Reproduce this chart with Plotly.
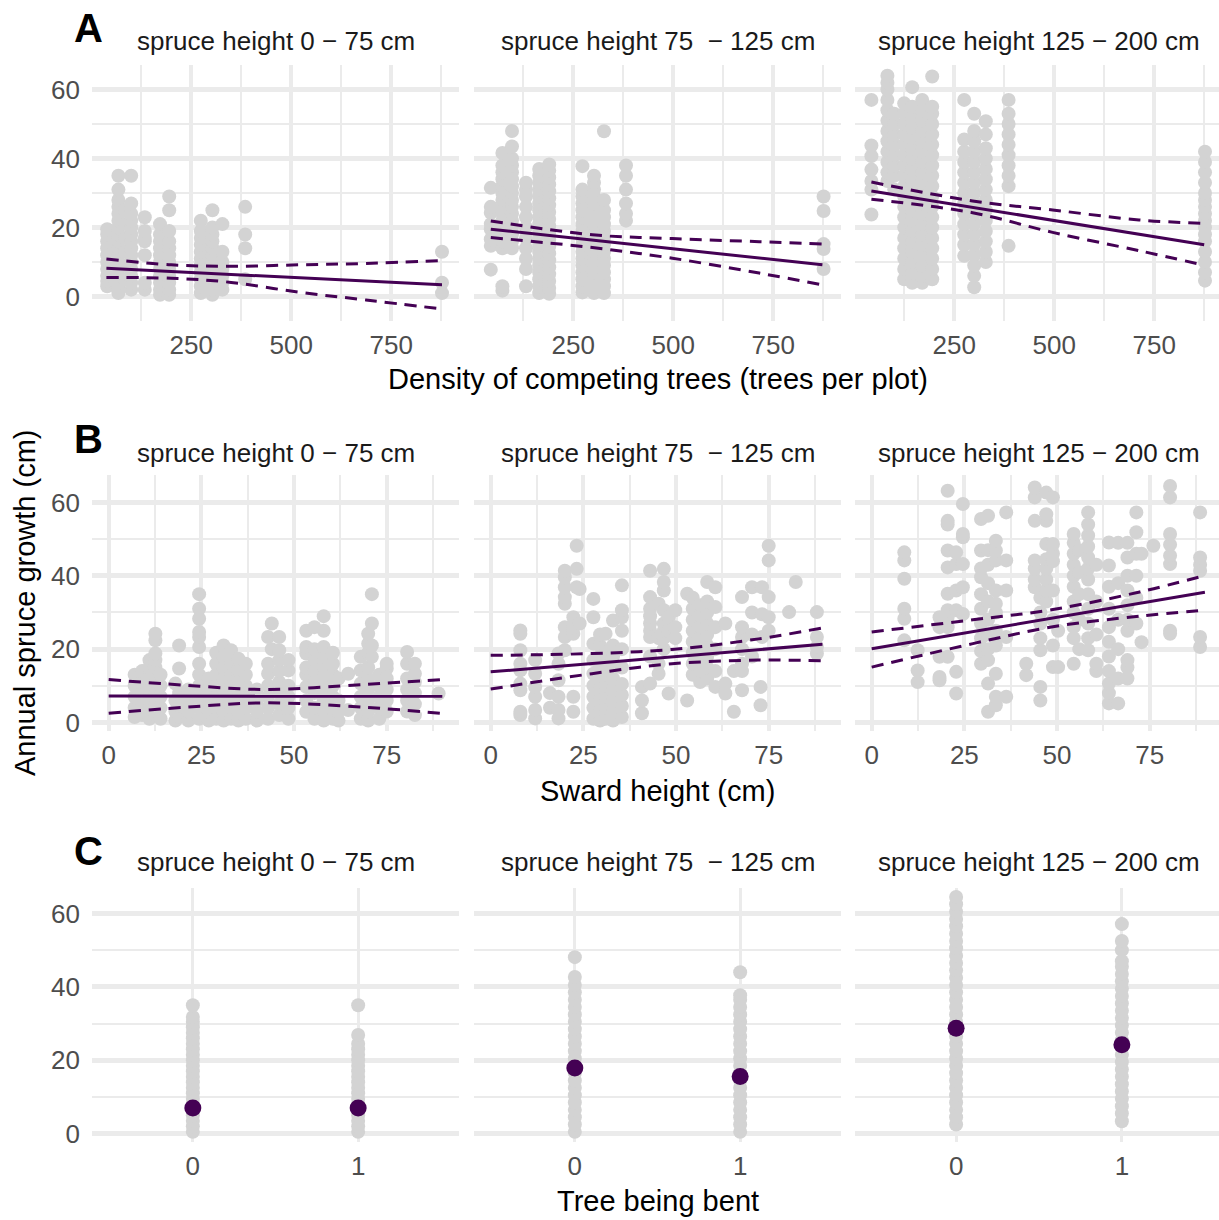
import plotly.graph_objects as go

# ================= DATA =================
# Row A: density of competing trees (columns of points: x value -> growth values)
A1_x = [40, 68, 85, 100, 134, 172, 195, 274, 303, 328, 385, 877]
A1_y = [[3, 4.5, 6, 8, 10, 12, 14, 16, 18, 19.5],
        [1, 2.5, 4, 6, 8, 10, 12, 14, 16, 18, 20, 22, 24, 26, 28, 31, 35],
        [5, 9, 13, 17, 21, 25],
        [2, 4, 6, 8, 10, 12, 14, 16, 18, 20, 22, 24, 27, 35],
        [2, 4, 12, 16, 17, 19, 23],
        [0.5, 2, 4, 6, 8, 10, 12, 14, 16, 18, 21],
        [0.5, 2, 4, 6, 8, 10, 12, 14, 16, 19, 25, 29],
        [1, 3, 5, 7, 9, 11, 13, 15, 17, 19, 22],
        [0.5, 2, 4, 6, 8, 10, 12, 14, 16, 18, 20, 25],
        [2, 4, 6, 8, 10, 13, 21],
        [5, 14, 18, 26],
        [1, 4, 13]]
A2_x = [44, 73, 97, 132, 165, 190, 273, 302, 327, 382, 876]
A2_y = [[7.8, 14.7, 16.6, 19.5, 21, 24.3, 26, 31.5],
        [1.7, 3, 14, 16, 18, 20, 22, 24, 26, 28, 30, 32, 34, 36, 38, 41.6],
        [14, 16, 18, 20, 22, 24, 26, 28, 30, 32, 34, 36, 38, 40, 43.5, 48],
        [3, 8, 11, 14, 17, 20, 23, 26, 29, 31, 33],
        [1, 3, 5, 7, 9, 11, 13, 15, 17, 19, 21, 23, 25, 27, 29, 31, 33, 35, 37],
        [0.8, 2.5, 4.5, 6.5, 8.5, 10.5, 12.5, 14.5, 16.5, 18.5, 20.5, 22.5, 24.5, 26.5, 28.5, 30.5, 32.5, 34.5, 36.5, 38.3],
        [1.2, 3, 5, 7, 9, 11, 13, 15, 17, 19, 21, 23, 25, 27, 29, 31, 37.8],
        [1, 3, 5, 7, 9, 11, 13, 15, 17, 19, 21, 23, 25, 27, 29, 31, 33, 35],
        [1, 3, 5, 7, 9, 11, 13, 15, 17, 19, 21, 23, 25, 28, 47.9],
        [22, 24, 27, 31, 35, 38],
        [8, 13.8, 15.2, 24.8, 29]]
A3_x = [43, 83, 100, 125, 145, 170, 195, 275, 300, 329, 386, 877]
A3_y = [[23.8, 31, 33.5, 36.8, 40.7, 43.8, 57],
        [33.5, 36, 39, 42, 45, 48, 51, 54, 57, 60, 62, 64],
        [31, 35, 38, 41, 44, 47, 50, 53],
        [5, 8, 11, 14, 17, 20, 23, 26, 29, 32, 35, 38, 41, 44, 47, 50, 53, 56],
        [4, 7, 10, 13, 16, 19, 22, 25, 28, 31, 34, 37, 40, 43, 46, 49, 52, 55, 60.7],
        [4, 6, 9, 12, 15, 18, 21, 24, 27, 30, 33, 36, 39, 42, 45, 48, 51, 54, 57],
        [5, 8, 11, 14, 17, 20, 23, 26, 29, 32, 35, 38, 41, 44, 47, 50, 53, 55, 63.8],
        [11.8, 15, 18, 21, 24, 27, 30, 33, 36, 39, 42, 45.5, 57],
        [2.7, 6, 9, 12, 15, 18, 21, 24, 27, 30, 33, 36, 39, 42, 45, 48, 53],
        [10, 13, 16, 19, 22, 25, 28, 31, 34, 37, 40, 43, 47, 50.8],
        [14.7, 32, 35, 38, 41, 44, 47, 50, 53, 57],
        [4.6, 7, 10, 13, 16, 18, 20, 22, 24, 26, 28, 30, 33, 36, 39, 42]]

# Row B: sward height
B1_x = [7, 9, 11, 12.6, 14, 18, 19, 21.5, 24.4, 27, 29, 31, 33, 35, 37, 40, 43, 44, 46, 48.5,
        53.3, 55.5, 58, 60.5, 62, 64.6, 68, 70, 71, 73, 75, 80.5, 82.6, 89]
B1_y = [[1.5, 4, 7, 10, 13], [2, 5, 8, 11, 14], [1, 3.5, 6, 9, 12, 15, 17],
        [2, 5, 8, 11, 15, 17, 18.8, 22.4, 24.2], [1, 4, 7, 10, 13], [0.5, 3, 6, 10.6],
        [1.5, 4.5, 8, 14.7, 21], [0.5, 3, 6, 9],
        [1, 4, 7, 10, 13, 16, 20.6, 23.3, 24.7, 28.3, 31, 35], [0.5, 3, 6, 9, 12],
        [1, 4, 7, 10, 13, 16, 19], [0.5, 3, 6, 9, 12, 15, 18, 21], [1, 4, 7, 10, 13, 16, 19.7],
        [0.5, 3, 6, 9, 12, 14.2, 17.4], [1, 4, 7, 10, 13, 16], [0.5, 3, 6, 9],
        [1, 4, 7, 10, 13.3, 16, 23.3], [20, 27], [2, 5, 8, 11, 14, 17, 19.7, 23.3],
        [1, 4, 7, 10, 14.2, 17], [2.9, 6, 9.7, 13, 15, 18.8, 20.6, 25],
        [1, 4, 8, 11, 14, 17, 20, 26], [0.5, 3, 6, 9, 12, 15, 17.9, 20.6, 25, 29],
        [1, 4, 7, 10, 13, 16, 19], [0.5, 3, 6, 12], [3.4, 13.3], [1, 4, 7, 10.6, 14.2, 17.9],
        [0.5, 3, 6, 9, 12, 15, 19, 21.5, 24.2], [17.9, 21, 27, 35], [1, 4, 7, 10, 13],
        [3, 6, 9, 12, 14.7, 16], [3, 6, 9, 12, 16, 19.2], [2, 5, 8, 11, 13.3, 16], [7.9]]
B2_x = [8, 12, 16, 18.3, 20, 22.3, 23.2, 24, 27.7, 29.5, 31, 33, 35.4, 40.8, 43, 45.3, 46.7, 48,
        49.8, 53, 54.5, 56.5, 58.4, 60.6, 63.3, 65.6, 67.8, 70.5, 72.8, 73.2, 75, 80.5, 82.3, 88]
B2_y = [[2, 2.9, 8.8, 10.6, 14.2, 16, 19.7, 24.2, 25.1], [1.1, 3.4, 7, 9.7, 13.3, 17], [4, 8],
        [1.1, 3.4, 7, 11.5, 16, 18.8], [19.7, 23.3, 26, 32.4, 34.2, 36.9, 39.6, 41.4],
        [2.9, 7, 24.2, 26, 28.7], [36.9, 41.9, 48.2], [27, 36.4],
        [1, 4, 7, 10, 13.3, 17, 21.5, 28.7, 33.7], [0.5, 3, 6, 9, 12, 15, 18, 21, 24],
        [1, 4, 7, 10, 13, 16, 19, 24.2], [0.5, 3, 6, 9, 12, 15, 18, 21, 27.8],
        [1.5, 4.5, 7.5, 10.5, 15, 20, 25, 28.7, 30.6, 37.4], [2.5, 6, 9.7],
        [10.6, 18, 23.3, 25, 27, 29, 31, 34.2, 41.4], [13.3, 16, 23, 32.4],
        [20, 23, 25, 27, 30.6, 36, 38.3, 41.9], [7.9, 25, 28.7], [23, 26, 30.6], [6, 35.1],
        [13, 16, 19, 22, 25, 28, 31, 34], [11, 14, 17, 20, 23, 26, 29, 32],
        [12, 15, 18, 21, 24, 27, 30, 33, 38.3], [9.7, 14, 20, 26, 31.5, 36.9], [7.9, 10.6, 27],
        [2.9, 14], [8.8, 14, 16, 20, 23.3, 26, 34.2], [18, 24, 30, 36.9], [4.7, 9.7],
        [23.3, 29.5, 36.9], [25, 28.7, 34.2, 44.2, 48.2], [30.1], [38.3], [18.8, 20.6, 23.3, 30.1]]
B3_x = [8.8, 12.4, 18.3, 20.5, 22.8, 24.6, 29.5, 31.4, 33.5, 36.3, 41.7, 44, 45.5, 47.1, 48.9,
        50.3, 54.5, 56, 58.4, 60.6, 64, 66.5, 69, 71.4, 72.8, 76, 80.5, 88.6]
B3_y = [[22.4, 28.3, 31, 39.2, 44.2, 46.4], [11, 14.2, 19.7], [11.5, 12.4, 17.9, 26, 28.7],
        [17.9, 26, 28.7, 30.6, 35.1, 42.3, 46.9, 54, 55, 63.2], [7.9, 13.8, 30.6, 36, 43.2, 46.4],
        [29.6, 36.9, 43.2, 50.5, 51.4, 59.6], [16, 19.5, 23, 27, 31, 35, 39.6, 42, 46.9, 55.5],
        [2.9, 10.6, 17, 20, 24, 28, 33, 38, 43, 47, 56.4],
        [4.7, 7, 13.3, 21, 25, 30, 32.4, 36, 44.2, 46.9, 49.6], [7, 23.3, 36, 44.2, 57.3],
        [12.9, 16], [36.9, 39, 42, 44.2, 55, 61.4, 64.1], [6, 9.7, 19.7, 23, 27, 30, 34],
        [33, 36, 39, 42, 44.5, 48.7, 55, 56.8, 62.7], [15.1, 21, 28, 36, 44, 46, 48.7, 61.4],
        [15.1, 25], [16, 23, 26, 30, 33, 37, 40, 43, 46, 49, 51.4], [20, 28, 35, 41, 47],
        [19.7, 23, 27, 31, 35, 39, 42, 45, 48, 51, 54, 57.3], [14, 16, 24, 33, 43],
        [5.2, 8, 10.6, 14, 18, 22, 26, 31, 37, 42.8, 49.1], [5.2, 12, 20, 28, 38, 49],
        [12, 15, 17, 25, 28, 32, 36, 40, 45, 49], [27, 34, 40, 46, 51.9, 57.3], [21.9, 46],
        [48.2], [24.2, 25, 43.2, 45.5, 48.5, 51.4, 61.4, 64.5], [20.6, 23.3, 41.4, 43, 45, 57.3]]

# Row C: tree being bent (0 / 1)
C1_y0 = [0.5, 2, 3.5, 5, 6.5, 8, 9.5, 11, 12.5, 14, 15.5, 17, 18.5, 20, 21.5, 23, 24.5, 26, 27.5, 29, 30.5, 31.8, 35]
C1_y1 = [0.5, 2, 3.5, 5, 6.5, 8, 9.5, 11, 12.5, 14, 15.5, 17, 18.5, 20, 21.5, 23, 24.5, 26.9, 35]
C2_y0 = [0.5, 2.5, 4.5, 6.5, 8.5, 10.5, 12.5, 14.5, 16.5, 18.5, 20.5, 22.5, 24.5, 26.5, 28.5, 30.5,
         32.5, 34.5, 36.5, 38.5, 40.5, 42.7, 48.1]
C2_y1 = [0.5, 2.5, 4.5, 6.5, 8.5, 10.5, 12.5, 14.5, 16.5, 18.5, 20.5, 22.5, 24.5, 26.5, 28.5, 30.5,
         32.5, 34.5, 36.5, 37.7, 44]
C3_y0 = [2.5, 4.5, 6.5, 8.5, 10.5, 12.5, 14.5, 16.5, 18.5, 20.5, 22.5, 24.5, 26.5, 28.5, 30.5, 32.5,
         34.5, 36.5, 38.5, 40.5, 42.5, 44.5, 46.5, 48.5, 50.5, 52.5, 54.5, 56.5, 58.5, 60.5, 62.5, 64.5]
C3_y1 = [3.4, 5.5, 7.5, 9.5, 11.5, 13.5, 15.5, 17.5, 19.5, 21.5, 23.5, 25.5, 27.5, 29.5, 31.5, 33.5,
         35.5, 37.5, 39.5, 41.5, 43.5, 45.5, 47, 50, 52.5, 57.1]
C_means = [[7.0, 7.0], [17.9, 15.6], [28.7, 24.2]]

# Model fits and 95% confidence bands
A_fit_x = [[38, 877], [44, 873], [43, 875]]
A_fit_y = [[8.2, 3.4], [19.5, 9.2], [30.6, 15.0]]
A_ci_x = [[38, 200, 350, 520, 687, 877], [44, 298, 498, 715, 873], [43, 296, 496, 712, 875]]
A_ci_up = [[10.9, 9.2, 8.75, 9.2, 9.6, 10.4], [21.9, 17.9, 16.8, 15.9, 15.2], [33.2, 27.7, 25.1, 22.2, 21.2]]
A_ci_lo = [[5.5, 5.3, 4.1, 1.25, -1.0, -3.6], [17.1, 14.2, 11.1, 6.8, 3.4], [28.2, 24.3, 18.6, 13.3, 9.1]]
B_fit_x = [[0, 90], [0, 89.5], [0, 89.9]]
B_fit_y = [[7.2, 7.15], [13.8, 21.3], [20.1, 35.5]]
B_ci_x = [[0, 20, 42.5, 69.6, 90], [0, 27.3, 48.9, 72.3, 89.5], [0, 27.3, 48.9, 72.3, 89.9]]
B_ci_up = [[11.7, 10.2, 9.0, 10.4, 11.7], [18.3, 18.8, 19.9, 22.8, 25.8], [24.7, 28.0, 30.8, 35.6, 40.1]]
B_ci_lo = [[2.5, 4.1, 5.35, 4.1, 2.45], [9.1, 13.3, 16.0, 17.0, 16.8], [15.1, 21.5, 26.1, 29.0, 30.6]]

strip_titles = ["spruce height 0 \u2212 75 cm", "spruce height 75  \u2212 125 cm", "spruce height 125 \u2212 200 cm"]
row_letters = ["A", "B", "C"]
x_titles = ["Density of competing trees (trees per plot)", "Sward height (cm)", "Tree being bent"]
y_title = "Annual spruce growth (cm)"

# ================= LAYOUT GEOMETRY (pixels) =================
W, H = 1219, 1220
col_px = [(92, 459), (474, 841), (855, 1219)]
row_px = [(65, 323), (477, 735), (892, 1148)]
A_xr = [[2, 919.5], [2, 919.5], [2, 912]]
B_xr = [[-4.5, 94.5], [-4.5, 94.5], [-4.5, 93.7]]
C_xr = [[-0.61, 1.61], [-0.61, 1.61], [-0.61, 1.586]]
yr = [[-7.21, 67.21], [-2.44, 67.6], [-2.36, 67.04]]

GREY = "#D3D3D3"
PURPLE = "#440154"
GRID = "#EBEBEB"
FONT = "Liberation Sans, Arial, sans-serif"


def flat(xs, ys):
    fx, fy = [], []
    for x, col in zip(xs, ys):
        for v in col:
            fx.append(x)
            fy.append(v)
    return fx, fy


fig = go.Figure()

def axname(i):
    return "" if i == 1 else str(i)

panel = 0
for r in range(3):
    for c in range(3):
        panel += 1
        xa = "x" + axname(panel)
        ya = "y" + axname(panel)
        # scatter points
        if r == 0:
            px, py = flat([A1_x, A2_x, A3_x][c], [A1_y, A2_y, A3_y][c])
        elif r == 1:
            px, py = flat([B1_x, B2_x, B3_x][c], [B1_y, B2_y, B3_y][c])
        else:
            y0s = [C1_y0, C2_y0, C3_y0][c]
            y1s = [C1_y1, C2_y1, C3_y1][c]
            px, py = flat([0, 1], [y0s, y1s])
        fig.add_trace(go.Scatter(x=px, y=py, mode="markers", xaxis=xa, yaxis=ya,
                                 marker=dict(color=GREY, size=14, line=dict(width=0)),
                                 showlegend=False, hoverinfo="skip"))
        if r < 2:
            fx = (A_fit_x if r == 0 else B_fit_x)[c]
            fy = (A_fit_y if r == 0 else B_fit_y)[c]
            cx = (A_ci_x if r == 0 else B_ci_x)[c]
            cu = (A_ci_up if r == 0 else B_ci_up)[c]
            cl = (A_ci_lo if r == 0 else B_ci_lo)[c]
            fig.add_trace(go.Scatter(x=fx, y=fy, mode="lines", xaxis=xa, yaxis=ya,
                                     line=dict(color=PURPLE, width=3), showlegend=False))
            for band in (cu, cl):
                fig.add_trace(go.Scatter(x=cx, y=band, mode="lines", xaxis=xa, yaxis=ya,
                                         line=dict(color=PURPLE, width=3, dash="12px,8px", shape="spline"),
                                         showlegend=False))
        else:
            fig.add_trace(go.Scatter(x=[0, 1], y=C_means[c], mode="markers", xaxis=xa, yaxis=ya,
                                     marker=dict(color=PURPLE, size=17, line=dict(width=0)),
                                     showlegend=False))

        x0, x1 = col_px[c]
        t, b = row_px[r]
        xdom = [x0 / W, x1 / W]
        ydom = [1 - b / H, 1 - t / H]
        xkey = "xaxis" + axname(panel)
        ykey = "yaxis" + axname(panel)
        xcfg = dict(domain=xdom, anchor=ya, showgrid=True, gridcolor=GRID, gridwidth=4,
                    zeroline=False, showline=False, ticks="", ticklabelstandoff=6,
                    tickfont=dict(family=FONT, size=26, color="#4D4D4D"))
        if r == 0:
            xcfg.update(range=A_xr[c], tick0=0, dtick=250,
                        minor=dict(tick0=0, dtick=125, showgrid=True, gridcolor=GRID, gridwidth=2))
        elif r == 1:
            xcfg.update(range=B_xr[c], tick0=0, dtick=25,
                        minor=dict(tick0=0, dtick=12.5, showgrid=True, gridcolor=GRID, gridwidth=2))
        else:
            xcfg.update(range=C_xr[c], tickvals=[0, 1], ticktext=["0", "1"], gridwidth=2.5)
        ycfg = dict(domain=ydom, anchor=xa, range=yr[r], showgrid=True, gridcolor=GRID, gridwidth=4.5,
                    zeroline=False, showline=False, ticks="", tick0=0, dtick=20,
                    minor=dict(tick0=0, dtick=10, showgrid=True, gridcolor=GRID, gridwidth=2),
                    showticklabels=(c == 0), ticklabelstandoff=11,
                    tickfont=dict(family=FONT, size=26, color="#4D4D4D"))
        fig.layout[xkey] = xcfg
        fig.layout[ykey] = ycfg

annotations = []
title_y = [41, 455, 866]
letter_y = [28, 441, 855]
xtitle_y = [381, 795, 1207]
for r in range(3):
    for c in range(3):
        x0, x1 = col_px[c]
        cx = (x0 + (x1 if c < 2 else 1222)) / 2
        annotations.append(dict(text=strip_titles[c], x=cx / W, y=1 - title_y[r] / H,
                                xref="paper", yref="paper", xanchor="center", yanchor="middle",
                                showarrow=False, font=dict(family=FONT, size=26, color="#1A1A1A")))
    annotations.append(dict(text="<b>" + row_letters[r] + "</b>", x=89 / W, y=1 - letter_y[r] / H,
                            xref="paper", yref="paper", xanchor="center", yanchor="middle",
                            showarrow=False, font=dict(family=FONT, size=40, color="black")))
    annotations.append(dict(text=x_titles[r], x=657.5 / W, y=1 - xtitle_y[r] / H,
                            xref="paper", yref="paper", xanchor="center", yanchor="middle",
                            showarrow=False, font=dict(family=FONT, size=29, color="black")))
annotations.append(dict(text=y_title, x=25 / W, y=1 - 606 / H, textangle=-90,
                        xref="paper", yref="paper", xanchor="center", yanchor="middle",
                        showarrow=False, font=dict(family=FONT, size=29, color="black")))

fig.update_layout(width=W, height=H, margin=dict(l=0, r=0, t=0, b=0),
                  paper_bgcolor="white", plot_bgcolor="white",
                  annotations=annotations, showlegend=False)

fig.write_html("out.html")
